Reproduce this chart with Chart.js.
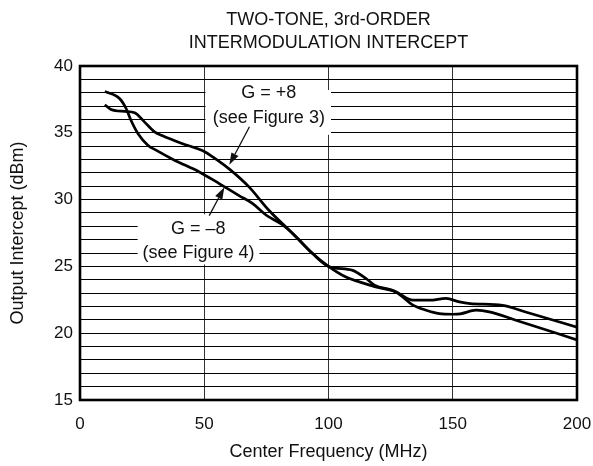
<!DOCTYPE html>
<html>
<head>
<meta charset="utf-8">
<script src="https://cdn.jsdelivr.net/npm/chart.js@4/dist/chart.umd.min.js"></script>
<style>
  html, body { margin: 0; padding: 0; background: #fff; }
</style>
</head>
<body>
<canvas id="chart" width="593" height="466"></canvas>
<script>
// Output intercept vs. center frequency, two gain settings
const freqGainPlus8 = [10, 12.5, 18, 22, 26, 30, 33, 41, 50, 53.4, 60, 68, 76, 85.6, 93.6, 100,
  107, 112.4, 119, 127, 134, 140.6, 147.3, 152.7, 157, 170, 180, 200];
const dbmGainPlus8 = [37.1, 36.75, 36.6, 36.5, 35.8, 35.07, 34.8, 34.2, 33.6, 33.2, 32.3, 30.95, 29.2, 27.46, 25.96, 25.0,
  24.2, 23.84, 23.47, 23.1, 22.47, 22.47, 22.6, 22.34, 22.22, 22.08, 21.55, 20.45];

const freqGainMinus8 = [10, 16, 18.6, 20.6, 23.3, 27.3, 30.6, 38, 48, 56, 64, 69.5, 75, 81.6, 87, 93.6, 100,
  109.7, 115, 118.5, 127, 134, 139.3, 144.6, 150, 153, 159.4, 164.7, 175.4, 200];
const dbmGainMinus8 = [38.1, 37.55, 36.8, 35.9, 34.95, 34.07, 33.7, 32.95, 32.07, 31.2, 30.3, 29.7, 28.83, 28.1, 27.2, 25.96, 25.0,
  24.7, 24.1, 23.6, 23.1, 22.1, 21.72, 21.47, 21.42, 21.45, 21.72, 21.6, 20.97, 19.5];

const xTickLabels = [0, 50, 100, 150, 200];
const yTickLabels = [15, 20, 25, 30, 35, 40];

const FONT = '"Liberation Sans", Arial, Helvetica, sans-serif';
const INK = '#111';

const toPoints = (xs, ys) => xs.map((x, i) => ({ x, y: ys[i] }));

// Callout labels: white panel, two text lines, and a leader arrow (all in data units)
const callouts = [
  { panel: [50.5, 101, 38.2, 34.85],
    text: [['G = +8', 76, 37.96], ['(see Figure 3)', 76, 36.1]],
    arrow: [68.2, 35.45, 60.1, 32.6] },
  { panel: [23.2, 72.2, 28.9, 25.15],
    text: [['G = \u20138', 47.6, 27.8], ['(see Figure 4)', 47.7, 26.0]],
    arrow: [52, 28.8, 58.1, 30.93] }
];

const calloutPlugin = {
  id: 'callouts',
  beforeDatasetsDraw(chart) {
    const { ctx, scales: { x, y } } = chart;
    ctx.save();
    for (const c of callouts) {
      const [x0, x1, y0, y1] = c.panel;
      const px0 = x.getPixelForValue(x0), px1 = x.getPixelForValue(x1);
      const py0 = y.getPixelForValue(y0), py1 = y.getPixelForValue(y1);
      ctx.fillStyle = '#fff';
      ctx.fillRect(px0, py0, px1 - px0, py1 - py0);

      ctx.fillStyle = INK;
      ctx.font = '18px ' + FONT;
      ctx.textAlign = 'center';
      ctx.textBaseline = 'middle';
      for (const [t, tx, ty] of c.text) {
        ctx.fillText(t, x.getPixelForValue(tx), y.getPixelForValue(ty));
      }

      const [ax0, ay0, ax1, ay1] = c.arrow;
      const sx = x.getPixelForValue(ax0), sy = y.getPixelForValue(ay0);
      const ex = x.getPixelForValue(ax1), ey = y.getPixelForValue(ay1);
      const ang = Math.atan2(ey - sy, ex - sx);
      const headLen = 12, headHalf = 4;
      const bx = ex - headLen * Math.cos(ang), by = ey - headLen * Math.sin(ang);
      ctx.strokeStyle = INK;
      ctx.lineWidth = 1.3;
      ctx.beginPath();
      ctx.moveTo(sx, sy);
      ctx.lineTo(bx, by);
      ctx.stroke();
      ctx.beginPath();
      ctx.moveTo(ex, ey);
      ctx.lineTo(bx + headHalf * Math.sin(ang), by - headHalf * Math.cos(ang));
      ctx.lineTo(bx - headHalf * Math.sin(ang), by + headHalf * Math.cos(ang));
      ctx.closePath();
      ctx.fill();
    }
    ctx.restore();
  }
};

// Heavy frame around the plotting area
const framePlugin = {
  id: 'frame',
  afterDatasetsDraw(chart) {
    const { ctx, chartArea: a } = chart;
    ctx.save();
    ctx.strokeStyle = '#000';
    ctx.lineWidth = 2.6;
    ctx.strokeRect(a.left, a.top, a.right - a.left, a.bottom - a.top);
    ctx.restore();
  }
};

const lineStyle = {
  borderColor: '#000',
  borderWidth: 2.7,
  pointRadius: 0,
  fill: false,
  cubicInterpolationMode: 'monotone'
};

new Chart(document.getElementById('chart'), {
  type: 'line',
  data: {
    datasets: [
      { label: 'G = +8', data: toPoints(freqGainPlus8, dbmGainPlus8), ...lineStyle },
      { label: 'G = \u20138', data: toPoints(freqGainMinus8, dbmGainMinus8), ...lineStyle }
    ]
  },
  options: {
    responsive: false,
    animation: false,
    devicePixelRatio: 1,
    layout: { padding: { left: 0, right: 16, top: 0, bottom: 0 } },
    plugins: {
      legend: { display: false },
      tooltip: { enabled: false },
      title: {
        display: true,
        fullSize: false,
        text: ['TWO-TONE, 3rd-ORDER', 'INTERMODULATION INTERCEPT'],
        color: INK,
        font: { family: FONT, size: 18, weight: 'normal', lineHeight: 1.3 },
        padding: { top: 8, bottom: 11.2 }
      }
    },
    scales: {
      x: {
        type: 'linear',
        min: 0,
        max: 200,
        afterFit(s) { s.height = 66; s.paddingLeft = 0; s.paddingRight = 0; },
        afterBuildTicks(s) { s.ticks = xTickLabels.map(v => ({ value: v })); },
        ticks: { color: INK, font: { family: FONT, size: 17 }, padding: 14, maxRotation: 0 },
        grid: { color: '#333', lineWidth: 1, drawTicks: false },
        border: { display: false },
        title: {
          display: true,
          text: 'Center Frequency (MHz)',
          color: INK,
          font: { family: FONT, size: 18 },
          padding: { top: 0, bottom: 3 }
        }
      },
      y: {
        min: 15,
        max: 40,
        afterFit(s) { s.width = 80; s.paddingTop = 0; s.paddingBottom = 0; },
        ticks: {
          stepSize: 1,
          autoSkip: false,
          color: INK,
          font: { family: FONT, size: 17 },
          padding: 7,
          callback: v => (yTickLabels.includes(v) ? String(v) : '')
        },
        grid: { color: '#000', lineWidth: 1, drawTicks: false },
        border: { display: false },
        title: {
          display: true,
          text: 'Output Intercept (dBm)',
          color: INK,
          font: { family: FONT, size: 18 },
          padding: { top: 7, bottom: 0 }
        }
      }
    }
  },
  plugins: [calloutPlugin, framePlugin]
});
</script>
</body>
</html>
